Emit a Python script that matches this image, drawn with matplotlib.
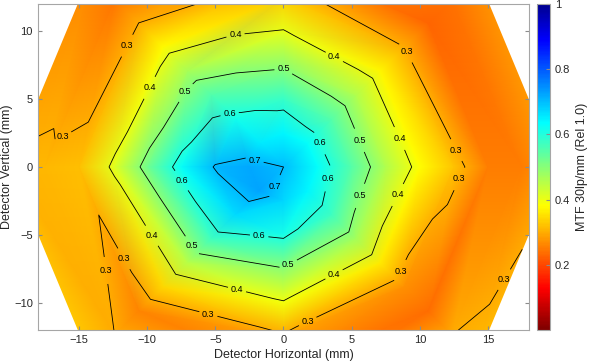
import numpy as np
import matplotlib
matplotlib.use("Agg")
import matplotlib.pyplot as plt
import matplotlib.tri as mtri
from matplotlib.colors import LinearSegmentedColormap

plt.rcParams['font.family'] = ['Liberation Sans', 'DejaVu Sans']

# ---- data (MTF 30 lp/mm, relative) sampled on a polar layout ----
ray_angles_deg = [0, 45, 90, 135, 180, 225, 270, 315]
ring_radii_mm = [2.5, 5, 7.5, 10, 12.5, 15, 17.5, 20]
center_mtf = 0.70
mtf_ray_000 = [0.631, 0.550, 0.459, 0.381, 0.323, 0.250, 0.250, 0.285]
mtf_ray_045 = [0.629, 0.550, 0.459, 0.374, 0.300, 0.230, 0.240, 0.270]
mtf_ray_090 = [0.642, 0.580, 0.490, 0.403, 0.330, 0.270, 0.260, 0.260]
mtf_ray_135 = [0.655, 0.615, 0.551, 0.467, 0.376, 0.300, 0.245, 0.260]
mtf_ray_180 = [0.720, 0.705, 0.626, 0.523, 0.410, 0.320, 0.310, 0.305]
mtf_ray_225 = [0.725, 0.668, 0.572, 0.451, 0.342, 0.260, 0.300, 0.330]
mtf_ray_270 = [0.674, 0.612, 0.496, 0.394, 0.290, 0.255, 0.270, 0.290]
mtf_ray_315 = [0.642, 0.572, 0.470, 0.363, 0.270, 0.235, 0.300, 0.320]
contour_levels = [0.3, 0.4, 0.5, 0.6, 0.7]
x_ticks = [-15, -10, -5, 0, 5, 10, 15]
y_ticks = [-10, -5, 0, 5, 10]
cbar_ticks = [0.2, 0.4, 0.6, 0.8, 1.0]
cbar_ticklabels = ['0.2', '0.4', '0.6', '0.8', '1']

rays = [mtf_ray_000, mtf_ray_045, mtf_ray_090, mtf_ray_135,
        mtf_ray_180, mtf_ray_225, mtf_ray_270, mtf_ray_315]


def matlab_jet(m=64):
    n = int(np.ceil(m / 4))
    u = np.concatenate([np.arange(1, n + 1) / n, np.ones(n - 1), np.arange(n, 0, -1) / n])
    g = int(np.ceil(n / 2)) - (1 if m % 4 == 1 else 0) + np.arange(1, len(u) + 1)
    r = g + n
    b = g - n
    J = np.zeros((m, 3))
    for idx, col in ((r, 0), (g, 1), (b, 2)):
        ok = (idx >= 1) & (idx <= m)
        J[idx[ok] - 1, col] = u[ok]
    return J


cmap = LinearSegmentedColormap.from_list('jet_flip', matlab_jet(64)[::-1], N=256)

# build nodes
xs, ys, zs = [0.0], [0.0], [center_mtf]
for i, r in enumerate(ring_radii_mm):
    for k, a in enumerate(ray_angles_deg):
        t = np.deg2rad(a)
        xs.append(r * np.cos(t)); ys.append(r * np.sin(t)); zs.append(rays[k][i])
xs, ys, zs = np.array(xs), np.array(ys), np.array(zs)

nk = len(ray_angles_deg)
def n(i, k):
    return 1 + i * nk + (k % nk)
flipped_quads = {(4, 4), (5, 4)}   # (ring index, sector index) split along the other diagonal
tris = []
for k in range(nk):
    tris.append((0, n(0, k), n(0, k + 1)))
for i in range(len(ring_radii_mm) - 1):
    for k in range(nk):
        a, b, c, d = n(i, k), n(i, k + 1), n(i + 1, k), n(i + 1, k + 1)
        if (i, k) in flipped_quads:
            tris.append((a, c, d))
            tris.append((a, d, b))
        else:
            tris.append((a, c, b))
            tris.append((b, c, d))
tri = mtri.Triangulation(xs, ys, np.array(tris))

fig = plt.figure(figsize=(5.9, 3.61), dpi=100)
ax = fig.add_axes([0.064, 0.086, 0.833, 0.903])
tpc = ax.tripcolor(tri, zs, shading='gouraud', cmap=cmap, vmin=0, vmax=1)
cs = ax.tricontour(tri, zs, levels=contour_levels, colors='k', linewidths=0.6)

label_xy = [(-11.6, 9.1), (-16.3, 2.7), (9.1, 8.6), (12.8, 1.4), (12.8, -0.8),
            (-13.6, -7.8), (-11.8, -6.9), (-5.5, -10.8), (8.6, -7.7), (16.1, -8.2), (1.8, -11.5),
            (-3.5, 9.3), (-9.7, 5.7), (3.7, 8.0), (8.4, 2.0), (-9.6, -5.0), (-3.4, -9.0),
            (3.7, -7.9), (8.4, -2.1),
            (-7.1, 5.4), (0.0, 7.2), (5.6, 2.0), (-6.7, -5.8), (0.4, -7.4), (5.7, -2.2),
            (-4.0, 4.45), (2.9, 2.0), (-7.6, -1.2), (-1.8, -5.5), (3.6, -1.0),
            (-2.1, 0.65), (-0.15, -1.9)]
ax.clabel(cs, fmt='%g', fontsize=6.5, manual=label_xy, inline=True, inline_spacing=2)
for t in cs.labelTexts:
    t.set_rotation(0)

ax.set_xlim(-18, 18)
ax.set_ylim(-12, 12)
ax.set_xticks(x_ticks)
ax.set_yticks(y_ticks)
ax.tick_params(direction='in', length=3, top=True, right=True, labelsize=8,
               color='#8c8c8c', labelcolor='#262626')
for s in ax.spines.values():
    s.set_color('#a6a6a6')
    s.set_linewidth(0.8)
ax.set_xlabel('Detector Horizontal (mm)', fontsize=9, color='#262626', labelpad=3)
ax.set_ylabel('Detector Vertical (mm)', fontsize=9, color='#262626')
ax.yaxis.set_label_coords(-0.051, 0.5)

cax = fig.add_axes([0.910, 0.086, 0.022, 0.903])
cb = fig.colorbar(tpc, cax=cax)
cb.set_ticks(cbar_ticks)
cb.set_ticklabels(cbar_ticklabels)
cax.tick_params(direction='in', length=3, labelsize=8, color='#8c8c8c', labelcolor='#262626')
cb.outline.set_edgecolor('#a6a6a6')
cb.outline.set_linewidth(0.8)
cb.set_label('MTF 30lp/mm (Rel 1.0)', fontsize=9, color='#262626', labelpad=4)

fig.savefig('out.png', dpi=100)
